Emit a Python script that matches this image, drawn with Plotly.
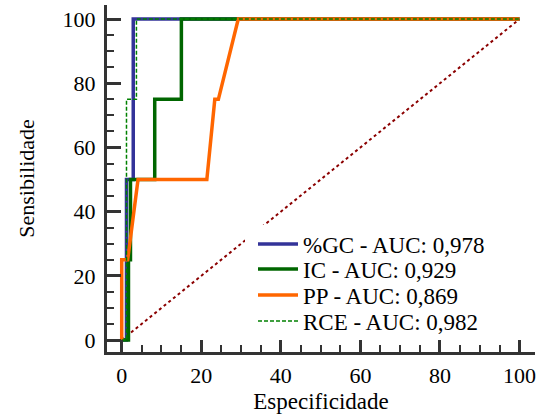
import plotly.graph_objects as go

# ROC data (x = 100 - specificity, y = sensitivity)
gc_x = [0, 1.2, 1.2, 2.9, 2.9, 100]
gc_y = [0, 0, 50, 50, 100, 100]
ic_x = [0, 1.7, 1.7, 2.2, 2.2, 8.3, 8.3, 15, 15, 100]
ic_y = [0, 0, 25, 25, 50, 50, 75, 75, 100, 100]
pp_x = [0, 0, 1.5, 4.1, 21.4, 23.4, 24.3, 29.3, 100]
pp_y = [0, 25, 25, 50, 50, 75, 75, 100, 100]
rce_x = [0, 1.2, 1.2, 3.7, 3.7, 100]
rce_y = [0, 0, 75, 75, 100, 100]
ref_x = [0, 100]
ref_y = [0, 100]

names = ["%GC - AUC: 0,978", "IC - AUC: 0,929", "PP - AUC: 0,869", "RCE - AUC: 0,982"]
tick_vals = [0, 20, 40, 60, 80, 100]

FONT = "Liberation Serif, Times New Roman, serif"

fig = go.Figure()
fig.add_trace(go.Scatter(x=ref_x, y=ref_y, mode="lines", showlegend=False,
                         line=dict(color="#8B0000", width=2, dash="3px,3px")))
fig.add_trace(go.Scatter(x=gc_x, y=gc_y, mode="lines", name=names[0], legend="legend",
                         line=dict(color="#333399", width=3.5)))
fig.add_trace(go.Scatter(x=ic_x, y=ic_y, mode="lines", name=names[1], legend="legend2",
                         line=dict(color="#006600", width=3.5)))
fig.add_trace(go.Scatter(x=pp_x, y=pp_y, mode="lines", name=names[2], legend="legend3",
                         line=dict(color="#FF6600", width=3.5)))
fig.add_trace(go.Scatter(x=rce_x, y=rce_y, mode="lines", name=names[3], legend="legend4",
                         line=dict(color="#008000", width=1.5, dash="4px,2px")))


def axis_style(ticklen):
    return dict(
        showgrid=False, zeroline=False, showline=True, linecolor="#333333", linewidth=3,
        ticks="inside", tickcolor="#333333", tickwidth=3, ticklen=ticklen,
        tickmode="array", tickvals=tick_vals,
        tickfont=dict(family=FONT, size=22, color="#000000"),
        minor=dict(ticks="inside", dtick=5, tick0=0, ticklen=7, tickwidth=2, tickcolor="#333333"),
        automargin=False,
    )


# plot area in pixels: x 107..535, y 5..352
PX0, PW, PY1, PH = 107, 428, 352, 347


def leg(yc):
    return dict(x=(253 - PX0) / PW, y=(PY1 - yc) / PH, xanchor="left", yanchor="middle",
                bgcolor="rgba(0,0,0,0)", borderwidth=0,
                font=dict(family=FONT, size=23, color="#000000"), itemwidth=40)


fig.update_layout(
    width=540, height=416,
    margin=dict(l=107, r=5, t=5, b=64),
    plot_bgcolor="white", paper_bgcolor="white",
    font=dict(family=FONT, color="#000000"),
    xaxis=dict(range=[-3.7, 103.9], ticklabelstandoff=2,
               title=dict(text="Especificidade", font=dict(family=FONT, size=23), standoff=6),
               **axis_style(12)),
    yaxis=dict(range=[-3.74, 104.4], ticklabelstandoff=4,
               title=dict(text="Sensibilidade", font=dict(family=FONT, size=22), standoff=22),
               **axis_style(14)),
    legend=leg(244),
    legend2=leg(269),
    legend3=leg(295),
    legend4=leg(321),
    shapes=[dict(type="rect", xref="paper", yref="paper", layer="above",
                 x0=(245 - PX0) / PW, x1=(505 - PX0) / PW,
                 y0=(PY1 - 335) / PH, y1=(PY1 - 225) / PH,
                 fillcolor="white", line=dict(width=0))],
)

fig.write_html("out.html", config={"displayModeBar": False},
               post_script="document.body.style.margin='0';")
